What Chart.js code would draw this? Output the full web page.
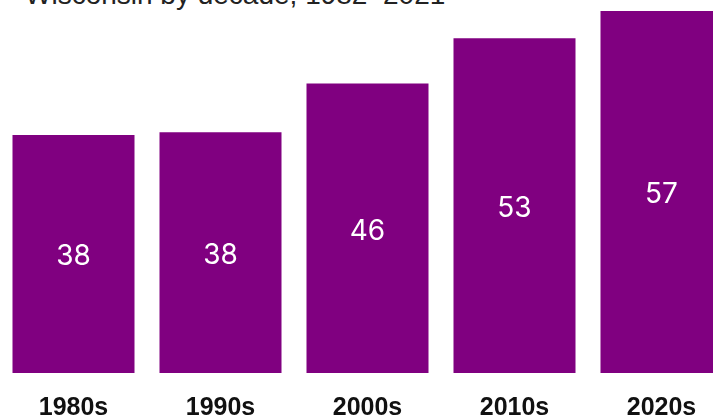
<!DOCTYPE html>
<html>
<head>
<meta charset="utf-8">
<script src="https://cdn.jsdelivr.net/npm/chart.js@4/dist/chart.umd.min.js"></script>
<style>
  html, body { margin: 0; padding: 0; background: #fff; overflow: hidden; width: 713px; height: 419px; }
  #title {
    position: absolute; left: 25px; top: -19px;
    font-family: "Liberation Sans", Arial, sans-serif; font-size: 28px; line-height: 28px;
    color: #222; white-space: nowrap;
  }
  #wrap { position: absolute; left: 0; top: -20px; width: 735px; height: 459px; }
</style>
</head>
<body>
<div id="title">Wisconsin by decade, 1982–2021</div>
<div id="wrap"><canvas id="decadeChart"></canvas></div>
<script>
const decades = ['1980s', '1990s', '2000s', '2010s', '2020s'];
const counts = [37.5, 37.9, 45.6, 52.7, 57.0];
const barColor = '#800080';

// draws the rounded value in the middle of each bar
const barValueLabels = {
    id: 'barValueLabels',
    afterDatasetsDraw(chart) {
        const ctx = chart.ctx;
        const meta = chart.getDatasetMeta(0);
        ctx.save();
        ctx.fillStyle = '#ffffff';
        ctx.font = '28px Inter, "Noto Sans", sans-serif';
        ctx.textAlign = 'center';
        ctx.textBaseline = 'middle';
        meta.data.forEach((bar, i) => {
            const v = chart.data.datasets[0].data[i];
            ctx.fillText(String(Math.round(v)), bar.x, (bar.y + bar.base) / 2 + 3);
        });
        ctx.restore();
    }
};

const ctx = document.getElementById('decadeChart').getContext('2d');
const decadeChart = new Chart(ctx, {
    type: 'bar',
    data: {
        labels: decades,
        datasets: [{
            data: counts,
            backgroundColor: barColor,
            borderWidth: 0,
            categoryPercentage: 1,
            barPercentage: 0.83
        }]
    },
    options: {
        responsive: true,
        maintainAspectRatio: false,
        animation: false,
        layout: { padding: { top: 12, left: 0, right: 0, bottom: 0 } },
        plugins: {
            legend: { display: false },
            tooltip: { enabled: false }
        },
        scales: {
            x: {
                grid: { display: false, drawTicks: false },
                border: { display: false },
                ticks: {
                    padding: 20,
                    color: '#111',
                    font: { family: '"Liberation Sans", Arial, sans-serif', size: 25, weight: 'bold' }
                },
                afterFit: (scale) => { scale.height = 66; }
            },
            y: {
                display: false,
                min: 0,
                max: 60
            }
        }
    },
    plugins: [barValueLabels]
});
</script>
</body>
</html>
